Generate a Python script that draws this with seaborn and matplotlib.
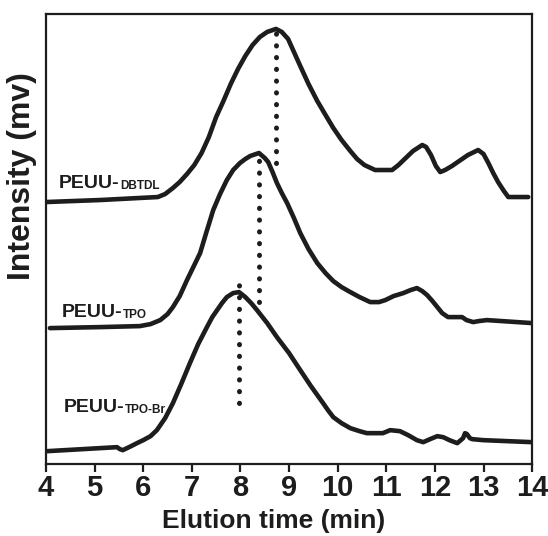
import pandas as pd
import matplotlib
matplotlib.use("Agg")
import matplotlib.pyplot as plt
import seaborn as sns

# GPC traces (elution time in min, stacked intensity in arbitrary units)
dbtdl_time = [4.00, 5.11, 6.30, 6.45, 6.61, 6.75, 6.90, 7.05, 7.20, 7.35, 7.50, 7.65,
              7.80, 7.95, 8.10, 8.25, 8.40, 8.55, 8.73, 8.85, 8.98, 9.10, 9.23, 9.40,
              9.58, 9.75, 9.91, 10.08, 10.26, 10.40, 10.55, 10.77, 11.12, 11.25, 11.40,
              11.55, 11.74, 11.82, 11.92, 12.02, 12.11, 12.21, 12.35, 12.50, 12.68,
              12.89, 13.00, 13.10, 13.20, 13.30, 13.42, 13.51, 13.92]
dbtdl_int = [262, 264, 267, 270, 276, 282, 290, 299, 311, 327, 347, 363,
             380, 395, 408, 419, 427, 432, 435, 432, 425, 412, 398, 380,
             363, 349, 336, 324, 313, 305, 299, 294, 294, 299, 306,
             313, 319, 317, 309, 298, 292, 294, 298, 303, 309,
             314, 310, 301, 291, 282, 273, 267, 267]

tpo_time = [4.08, 5.11, 5.93, 6.15, 6.35, 6.50, 6.61, 6.75, 6.90, 7.05, 7.17, 7.30,
            7.44, 7.58, 7.72, 7.85, 7.99, 8.10, 8.20, 8.38, 8.50, 8.57, 8.66, 8.75,
            8.85, 8.96, 9.10, 9.23, 9.40, 9.58, 9.75, 9.91, 10.08, 10.26, 10.45,
            10.67, 10.85, 10.98, 11.15, 11.35, 11.50, 11.63, 11.74, 11.84, 11.95,
            12.05, 12.15, 12.27, 12.56, 12.65, 12.79, 12.90, 13.07, 14.00]
tpo_int = [136, 137, 138, 140, 144, 150, 157, 168, 184, 199, 211, 232,
           254, 270, 284, 294, 301, 305, 308, 311, 306, 302, 292, 281,
           271, 261, 246, 231, 215, 201, 191, 183, 177, 172, 167,
           162, 162, 164, 168, 171, 174, 176, 173, 169, 163,
           157, 151, 147, 147, 144, 142, 143, 144, 141]

tpobr_time = [4.02, 5.46, 5.52, 5.58, 5.75, 5.87, 6.00, 6.15, 6.28, 6.45, 6.61, 6.78,
              6.96, 7.13, 7.31, 7.42, 7.52, 7.62, 7.72, 7.85, 7.97, 8.10, 8.22, 8.34,
              8.55, 8.75, 9.00, 9.23, 9.45, 9.70, 9.80, 9.91, 10.08, 10.26, 10.45,
              10.60, 10.93, 11.08, 11.28, 11.45, 11.63, 11.76, 11.90, 12.05, 12.17,
              12.30, 12.46, 12.58, 12.62, 12.66, 12.72, 12.77, 13.00, 14.00]
tpobr_int = [13, 17, 15, 14, 18, 21, 24, 28, 34, 46, 61, 80,
             101, 120, 137, 147, 154, 161, 167, 171, 172, 167, 161, 154,
             141, 127, 111, 94, 78, 61, 54, 47, 41, 36, 33,
             31, 31, 34, 33, 29, 24, 22, 25, 28, 27,
             24, 21, 26, 31, 30, 26, 25, 24, 22]

samples = ["DBTDL", "TPO", "TPO-Br"]
peak_time = [8.73, 8.38, 7.98]
peak_low = [301, 162, 61]
peak_high = [439, 312, 186]
label_pos = [(4.27, 276), (4.33, 147), (4.37, 52)]

df = pd.concat([
    pd.DataFrame({"time": dbtdl_time, "intensity": dbtdl_int, "sample": "DBTDL"}),
    pd.DataFrame({"time": tpo_time, "intensity": tpo_int, "sample": "TPO"}),
    pd.DataFrame({"time": tpobr_time, "intensity": tpobr_int, "sample": "TPO-Br"}),
], ignore_index=True)

sns.set_style("ticks")
plt.rcParams["font.family"] = ["Liberation Sans", "DejaVu Sans"]
plt.rcParams["font.weight"] = "bold"

ink = "#1e1c1d"
fig, ax = plt.subplots(figsize=(5.48, 5.36), dpi=100)
fig.subplots_adjust(left=0.084, right=0.971, bottom=0.134, top=0.974)

sns.lineplot(data=df, x="time", y="intensity", hue="sample", units="sample",
             estimator=None, sort=False, palette=[ink] * 3, linewidth=3.3,
             legend=False, ax=ax)

for t, lo, hi in zip(peak_time, peak_low, peak_high):
    ax.plot([t, t], [lo, hi], color=ink, linewidth=3.6,
            linestyle=(0, (0.05, 2.3)), dash_capstyle="round")

for name, (x, y) in zip(samples, label_pos):
    main = ax.text(x, y, "PEUU-", fontsize=14, fontweight="bold", color=ink,
                   va="baseline", ha="left")
    ax.annotate(name, xy=(1, 0), xycoords=main, fontsize=8.5, fontweight="bold",
                color=ink, va="bottom", ha="left")

ax.set_xlim(4, 14)
ax.set_ylim(0, 450)
ax.set_xticks(range(4, 15))
ax.set_yticks([])
for lab in ax.get_xticklabels():
    lab.set_fontweight("bold")
    lab.set_fontsize(21)
ax.tick_params(axis="x", direction="out", length=6, width=1.6, pad=1, colors=ink)

for side in ["left", "right", "top", "bottom"]:
    ax.spines[side].set_visible(True)
    ax.spines[side].set_linewidth(1.6)
    ax.spines[side].set_color(ink)

ax.set_xlabel("Elution time (min)", fontsize=19, fontweight="bold", color=ink)
ax.set_ylabel("Intensity (mv)", fontsize=23, fontweight="bold", color=ink)
ax.xaxis.set_label_coords(0.469, -0.10)
ax.yaxis.set_label_coords(-0.018, 0.64)

plt.savefig("out.png", dpi=100)
